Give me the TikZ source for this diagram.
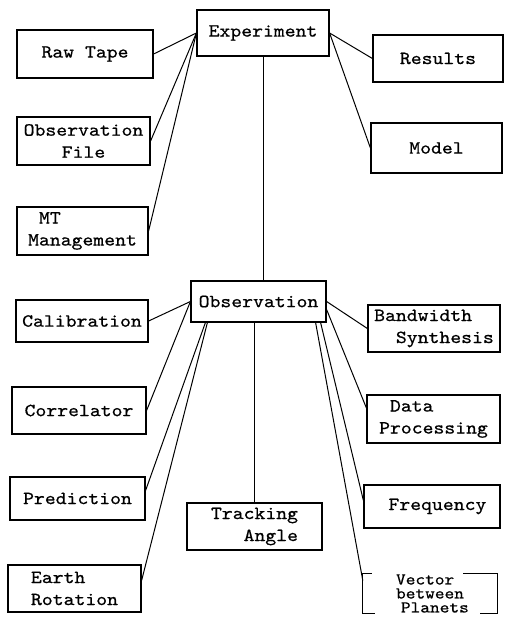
\documentclass[tikz,border=0pt]{standalone}
\usepackage{fontspec}
\newfontfamily\typer{lmmono10-regular.otf}[FakeStretch=1.12,FakeBold=0.6]
\begin{document}
\begin{tikzpicture}[x=1pt,y=-1pt,
  box/.style={draw, line width=1.2pt, inner sep=0pt, align=center,
    font=\typer\fontsize{18.5}{22}\selectfont},
  bare/.style={inner sep=0pt, align=center,
    font=\typer\fontsize{16.5}{14}\selectfont},
  link/.style={line width=1pt}]
\useasboundingbox (0,0) rectangle (507,621);

% upper level: the experiment and its parts
\node[box, minimum width=132pt, minimum height=46pt] (exp) at (263,33) {Experiment};
\node[box, minimum width=136pt, minimum height=48pt] (raw) at (85,54) {Raw Tape};
\node[box, minimum width=133pt, minimum height=48pt] (ofile) at (83.5,141) {Observation\\File};
\node[box, minimum width=131pt, minimum height=48pt] (mt) at (82.5,231) {MT\phantom{xxxxxx}\\Management};
\node[box, minimum width=130pt, minimum height=47pt] (res) at (438,58.5) {Results};
\node[box, minimum width=131pt, minimum height=50pt] (model) at (436.5,148) {Model};

% lower level: the observation and its parts
\node[box, minimum width=135pt, minimum height=41pt] (obs) at (258.5,301.5) {Observation};
\node[box, minimum width=132pt, minimum height=42pt] (cal) at (82,321) {Calibration};
\node[box, minimum width=134pt, minimum height=47pt] (corr) at (79,410.5) {Correlator};
\node[box, minimum width=135pt, minimum height=43pt] (pred) at (77.5,498.5) {Prediction};
\node[box, minimum width=133pt, minimum height=47pt] (earth) at (74.5,588.5) {Earth\phantom{xxx}\\Rotation};
\node[box, minimum width=135pt, minimum height=47pt] (track) at (254.5,526.5) {Tracking\\\phantom{xxx}Angle};
\node[box, minimum width=132pt, minimum height=47pt] (band) at (434,328.5) {Bandwidth\phantom{xx}\\\phantom{xx}Synthesis};
\node[box, minimum width=133pt, minimum height=48pt] (data) at (433.5,419) {Data\phantom{xxxx}\\Processing};
\node[box, minimum width=136pt, minimum height=43pt] (freq) at (432,506.5) {\phantom{x}Frequency};
\node[bare, minimum width=134pt, minimum height=40pt] (vec) at (430,593.5) {Vector\phantom{x}\\between\\\phantom{x}Planets};

% open frame around the planets vector
\draw[line width=1.2pt] ([xshift=9pt]vec.north west) -- (vec.north west) -- (vec.south west) -- ([xshift=12pt]vec.south west);
\draw[line width=1.2pt] ([xshift=-34pt]vec.north east) -- (vec.north east) -- (vec.south east) -- ([xshift=-17pt]vec.south east);

% links of the experiment
\draw[link] (raw.east) -- (exp.west);
\draw[link] (ofile.east) -- (exp.west);
\draw[link] (mt.east) -- (exp.west);
\draw[link] (exp.east) -- (res.west);
\draw[link] (exp.east) -- (model.west);
\draw[link] (exp.south) -- (exp.south |- obs.north);

% links of the observation
\draw[link] (cal.east) -- (obs.west);
\draw[link] (corr.east) -- (obs.west);
\draw[link] ([yshift=8pt]pred.east) -- ([xshift=15pt]obs.south west);
\draw[link] ([yshift=8pt]earth.east) -- ([xshift=17pt]obs.south west);
\draw[link] (obs.south -| track.north) -- (track.north);
\draw[link] (obs.east) -- (band.west);
\draw[link] ([yshift=-8pt]obs.east) -- ([yshift=11pt]data.west);
\draw[link] ([xshift=-6pt]obs.south east) -- ([yshift=6pt]freq.west);
\draw[link] ([xshift=-11pt]obs.south east) -- ([yshift=13pt]vec.west);
\end{tikzpicture}
\end{document}
